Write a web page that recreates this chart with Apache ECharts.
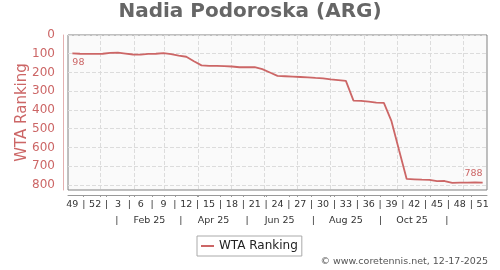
<!DOCTYPE html>
<html><head><meta charset="utf-8">
<script src="https://cdn.jsdelivr.net/npm/echarts@6/dist/echarts.min.js"></script>
<style>html,body{margin:0;padding:0;background:#fff}#c{width:500px;height:270px}</style>
</head><body><div id="c"></div>
<script>
const chartTitle = 'Nadia Podoroska (ARG)';
const seriesName = 'WTA Ranking';
const creditText = '\u00a9 www.coretennis.net, 12-17-2025';
const firstPointDate = '2024-12-06';
const axisStartDate = '2024-12-02';
const axisEndDate = '2025-12-23';
const weekNumbers = [49,50,51,52,1,2,3,4,5,6,7,8,9,10,11,12,13,14,15,16,17,18,19,20,21,22,23,24,25,26,27,28,29,30,31,32,33,34,35,36,37,38,39,40,41,42,43,44,45,46,47,48,49,50,51];
const ranks = [98,100,101,101,100,95,94,99,104,105,101,100,97,102,110,116,140,162,165,165,166,168,172,172,171,182,200,218,220,222,224,226,229,231,237,241,245,350,351,356,361,362,460,615,768,770,772,773,780,779,789,788,788,787,788];
const weekLabelEvery = 3;
const monthLabels = ['Feb 25','Apr 25','Jun 25','Aug 25','Oct 25'];
const monthLabelDates = ['2025-02-15','2025-04-15','2025-06-15','2025-08-15','2025-10-15'];
const monthSeparatorDates = ['2025-01-16','2025-03-16','2025-05-16','2025-07-16','2025-09-16','2025-11-16'];
const monthGridDates = ['2025-01-01','2025-02-01','2025-03-01','2025-04-01','2025-05-01','2025-06-01','2025-07-01','2025-08-01','2025-09-01','2025-10-01','2025-11-01','2025-12-01'];
const yTicks = [0,100,200,300,400,500,600,700,800];
const yMax = 827;

const DAY = 86400000;
const ts = s => Date.parse(s + 'T00:00:00Z');
const t0 = ts(firstPointDate);
const pointTs = ranks.map((_, i) => t0 + i * 7 * DAY);
const xMin = ts(axisStartDate), xMax = ts(axisEndDate);

const weekLabelPos = [], weekSepPos = [], weekLabelText = {};
pointTs.forEach((t, i) => {
  if (i % weekLabelEvery === 0) {
    weekLabelPos.push(t); weekLabelText[t] = String(weekNumbers[i]);
    if (i + weekLabelEvery < pointTs.length) weekSepPos.push(t + weekLabelEvery * 7 * DAY / 2);
  }
});
const monthLabelPos = monthLabelDates.map(ts);
const monthLabelText = {};
monthLabelPos.forEach((t, i) => monthLabelText[t] = monthLabels[i]);
const monthSepPos = monthSeparatorDates.map(ts);
const monthGridPos = monthGridDates.map(ts);

const red = '#cc6666';
const last = ranks.length - 1;
const seriesData = ranks.map((v, i) => {
  const d = { value: [pointTs[i], v] };
  if (i === 0) d.label = { show: true, position: 'bottom', align: 'left', distance: 4 };
  if (i === last) d.label = { show: true, position: 'top', align: 'right', distance: 4, offset: [2, 0] };
  return d;
});

const chart = echarts.init(document.getElementById('c'), null, { renderer: 'canvas' });
chart.setOption({
  animation: false,
  textStyle: { fontFamily: 'DejaVu Sans' },
  title: { text: chartTitle, left: 'center', top: 2, padding: 0,
    textStyle: { fontSize: 20, fontWeight: 'bold', color: '#666', fontFamily: 'DejaVu Sans' } },
  grid: { left: 68, right: 13, top: 35, bottom: 80, show: true, backgroundColor: '#fafafa', borderColor: '#808080', borderWidth: 1 },
  legend: { bottom: 14, left: 197, padding: [4, 4, 4, 4], borderColor: '#aaa', borderWidth: 1, borderRadius: 0,
    itemWidth: 13, itemHeight: 2, itemGap: 5,
    textStyle: { fontSize: 12, color: '#222' },
    data: [{ name: seriesName, icon: 'rect' }] },
  graphic: [{ type: 'text', right: 12, top: 257, style: { text: creditText, fontSize: 9.5, fill: '#555', fontFamily: 'DejaVu Sans' } }],
  xAxis: [
    { type: 'value', position: 'bottom', min: xMin, max: xMax, axisLine: { show: false },
      axisTick: { show: false, customValues: monthGridPos }, axisLabel: { show: false },
      splitLine: { show: true, lineStyle: { color: '#dcdcdc', type: 'dashed' } } },
    { type: 'value', position: 'bottom', min: xMin, max: xMax, offset: 5, axisLine: { show: true, lineStyle: { color: '#999' } },
      axisTick: { show: true, length: 2, customValues: monthGridPos.concat(weekSepPos), lineStyle: { color: '#999' } },
      axisLabel: { customValues: weekLabelPos.concat(weekSepPos), fontSize: 9.5, color: '#333', margin: 5,
        formatter: v => weekLabelText[v] !== undefined ? weekLabelText[v] : '|' },
      splitLine: { show: false } },
    { type: 'value', position: 'bottom', min: xMin, max: xMax, offset: 5, axisLine: { show: false }, axisTick: { show: false },
      axisLabel: { customValues: monthLabelPos.concat(monthSepPos), fontSize: 9.5, color: '#333', margin: 21,
        formatter: v => monthLabelText[v] !== undefined ? monthLabelText[v] : '|' },
      splitLine: { show: false } }
  ],
  yAxis: { type: 'value', inverse: true, min: 0, max: yMax, offset: 5,
    axisLine: { show: true, lineStyle: { color: '#e3b0b0' } },
    axisTick: { show: false, customValues: yTicks },
    axisLabel: { customValues: yTicks, color: red, fontSize: 12, margin: 8 },
    splitLine: { show: true, lineStyle: { color: '#dcdcdc', type: 'dashed' } },
    name: seriesName, nameLocation: 'middle', nameGap: 33, nameMoveOverlap: false,
    nameTextStyle: { color: red, fontSize: 15 } },
  series: [{ name: seriesName, type: 'line', xAxisIndex: 0, data: seriesData,
    showSymbol: true, showAllSymbol: true, symbol: 'circle', symbolSize: 0.01,
    lineStyle: { color: red, width: 1.8 }, itemStyle: { color: red },
    label: { show: false, color: red, fontSize: 9.5 },
    labelLayout: { hideOverlap: false } }]
});
</script></body></html>
